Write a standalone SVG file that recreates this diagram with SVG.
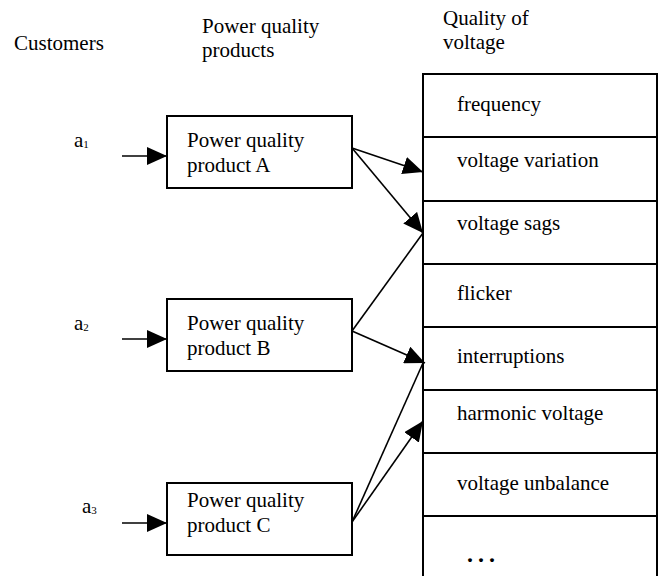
<svg xmlns="http://www.w3.org/2000/svg" width="663" height="576" viewBox="0 0 663 576">
<style>
text{font-family:"Liberation Serif","Times New Roman",serif;font-size:21px;fill:#000}
.sub{font-size:11px}
.box{fill:#fff;stroke:#000;stroke-width:2}
.cell{fill:#fff;stroke:#000;stroke-width:2}
.con{stroke:#000;stroke-width:1.6;fill:none}
.dots{font-weight:bold;font-size:24px;letter-spacing:5px}
</style>
<defs>
<marker id="ah" markerUnits="userSpaceOnUse" markerWidth="20" markerHeight="18" refX="20" refY="9" orient="auto">
<path d="M0,0 L20,9 L0,18 Z" fill="#000"/>
</marker>
</defs>
<rect width="663" height="576" fill="#fff"/>
<g id="headers">
<text x="14" y="50">Customers</text>
<text x="202" y="33">Power quality</text>
<text x="202" y="57">products</text>
<text x="443" y="25">Quality of</text>
<text x="443" y="49">voltage</text>
</g>
<g id="customer-a1"><text x="74" y="147">a<tspan class="sub" dy="1">1</tspan></text></g>
<g id="customer-a2"><text x="74" y="330">a<tspan class="sub" dy="1">2</tspan></text></g>
<g id="customer-a3"><text x="82" y="513">a<tspan class="sub" dy="1">3</tspan></text></g>
<g id="product-A">
<rect class="box" x="167" y="116" width="185" height="72"/>
<text x="187" y="147">Power quality</text>
<text x="187" y="172">product A</text>
</g>
<g id="product-B">
<rect class="box" x="167" y="299" width="185" height="72"/>
<text x="187" y="330">Power quality</text>
<text x="187" y="355">product B</text>
</g>
<g id="product-C">
<rect class="box" x="167" y="483" width="185" height="72"/>
<text x="187" y="507">Power quality</text>
<text x="187" y="532">product C</text>
</g>
<g id="quality-table">
<rect class="cell" x="423" y="74" width="234" height="63"/>
<rect class="cell" x="423" y="137" width="234" height="64"/>
<rect class="cell" x="423" y="201" width="234" height="63"/>
<rect class="cell" x="423" y="264" width="234" height="63"/>
<rect class="cell" x="423" y="327" width="234" height="63"/>
<rect class="cell" x="423" y="390" width="234" height="63"/>
<rect class="cell" x="423" y="453" width="234" height="63"/>
<rect class="cell" x="423" y="516" width="234" height="70"/>
<text x="457" y="111">frequency</text>
<text x="457" y="167">voltage variation</text>
<text x="457" y="230">voltage sags</text>
<text x="457" y="300">flicker</text>
<text x="457" y="363">interruptions</text>
<text x="457" y="420">harmonic voltage</text>
<text x="457" y="490">voltage unbalance</text>
<text class="dots" x="467" y="562">...</text>
</g>
<g id="connectors">
<line class="con" x1="122" y1="156" x2="167" y2="156" marker-end="url(#ah)"/>
<line class="con" x1="122" y1="339" x2="167" y2="339" marker-end="url(#ah)"/>
<line class="con" x1="122" y1="523" x2="167" y2="523" marker-end="url(#ah)"/>
<line class="con" x1="352" y1="148" x2="423" y2="172" marker-end="url(#ah)"/>
<line class="con" x1="352" y1="148" x2="423" y2="233" marker-end="url(#ah)"/>
<line class="con" x1="352" y1="331" x2="423" y2="233"/>
<line class="con" x1="352" y1="331" x2="425" y2="363" marker-end="url(#ah)"/>
<line class="con" x1="352" y1="522" x2="423" y2="363"/>
<line class="con" x1="352" y1="522" x2="423" y2="421" marker-end="url(#ah)"/>
</g>
</svg>
